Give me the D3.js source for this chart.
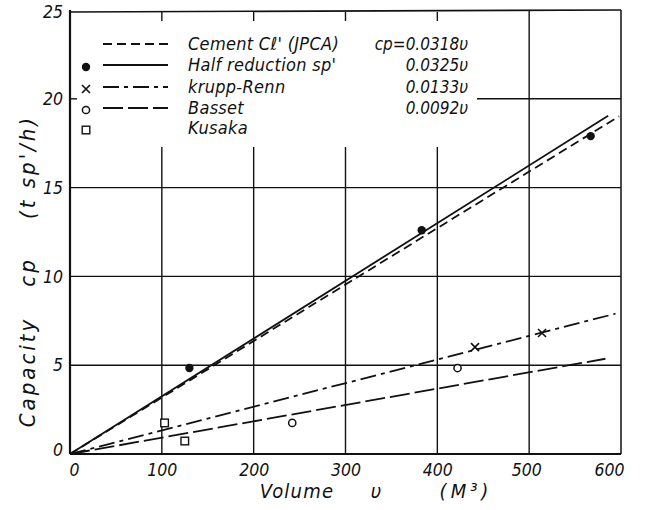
<!DOCTYPE html>
<html>
<head>
<meta charset="utf-8">
<script src="https://cdn.jsdelivr.net/npm/d3@7"></script>
<style>
  body { margin: 0; background: #fff; }
  svg { display: block; }
  text { font-family: "DejaVu Sans Condensed", "DejaVu Sans", sans-serif; font-style: oblique; fill: #111; }
</style>
</head>
<body>
<svg id="chart" width="650" height="510"></svg>
<script>
// ---- data ----
const xTickValues = [0, 100, 200, 300, 400, 500, 600];
const yTickValues = [0, 5, 10, 15, 20, 25];
const seriesNames = ["Cement C\u2113' (JPCA)", "Half reduction sp'", "krupp-Renn", "Basset", "Kusaka"];
const coefLabels = ["cp=0.0318\u03C5", "0.0325\u03C5", "0.0133\u03C5", "0.0092\u03C5"];
const coefficients = [0.0318, 0.0325, 0.0133, 0.0092];
const lineEndV = [598, 586, 594, 583];
const halfReductionPts = [[130, 4.84], [383, 12.6], [567, 17.9]];
const kruppPts = [[441, 6.02], [514, 6.81]];
const bassetPts = [[422, 4.84], [242, 1.75]];
const kusakaPts = [[103, 1.75], [125, 0.73]];

// ---- layout ----
const svg = d3.select("#chart");
const x = d3.scaleLinear().domain([0, 600]).range([70, 621]);
const y = d3.scaleLinear().domain([0, 25]).range([454, 10]);
const ink = "#111";

const dashStyles = ["9,5", null, "16,5,4,5", "20,5"];

// grid: horizontal
const gridH = svg.append("g").attr("stroke", ink).attr("stroke-width", 1.4);
[5, 10, 15].forEach(v => {
  gridH.append("line").attr("x1", x(0)).attr("x2", x(600)).attr("y1", y(v)).attr("y2", y(v));
});
// 20 line: short tick at left, then right part past legend
gridH.append("line").attr("x1", x(0)).attr("x2", x(0) + 7).attr("y1", y(20)).attr("y2", y(20));
gridH.append("line").attr("x1", 477).attr("x2", x(600)).attr("y1", y(20)).attr("y2", y(20));

// grid: vertical
const gridV = svg.append("g").attr("stroke", ink).attr("stroke-width", 1.4);
[100, 200, 300, 400].forEach(v => {
  gridV.append("line").attr("x1", x(v)).attr("x2", x(v)).attr("y1", 147).attr("y2", y(0));
  gridV.append("line").attr("x1", x(v)).attr("x2", x(v)).attr("y1", y(25) + 2).attr("y2", y(25) + 11);
});
gridV.append("line").attr("x1", x(500)).attr("x2", x(500)).attr("y1", y(25)).attr("y2", y(0));

// frame
const frame = svg.append("g").attr("fill", "none").attr("stroke", ink);
frame.append("line").attr("x1", x(0)).attr("x2", x(600)).attr("y1", y(25) + 2).attr("y2", y(25)).attr("stroke-width", 1.6);
frame.append("line").attr("x1", x(600)).attr("x2", x(600)).attr("y1", y(25)).attr("y2", y(0)).attr("stroke-width", 1.5);
frame.append("line").attr("x1", x(0)).attr("x2", x(0)).attr("y1", y(25)).attr("y2", y(0)).attr("stroke-width", 2.2);
frame.append("line").attr("x1", x(0)).attr("x2", x(600)).attr("y1", y(0)).attr("y2", y(0)).attr("stroke-width", 2.2);

// axes labels via d3 axes
const xAxis = d3.axisBottom(x).tickValues(xTickValues).tickSize(0).tickPadding(8).tickFormat(d3.format("d"));
const gx = svg.append("g").attr("transform", `translate(0,${y(0) + 2})`).call(xAxis);
gx.select(".domain").remove();
gx.selectAll("text").attr("font-size", 17.5).attr("font-family", null).attr("fill", ink);
gx.selectAll(".tick").filter(d => d === 0).select("text").attr("dx", 4);
gx.selectAll(".tick").filter(d => d === 600).select("text").attr("dx", -12);
gx.selectAll(".tick").filter(d => d === 500).select("text").attr("dx", -3);

const yAxis = d3.axisLeft(y).tickValues(yTickValues).tickSize(0).tickPadding(7).tickFormat(d3.format("d"));
const gy = svg.append("g").attr("transform", `translate(${x(0)},0)`).call(yAxis);
gy.select(".domain").remove();
gy.selectAll("text").attr("font-size", 17.5).attr("font-family", null).attr("fill", ink);
gy.selectAll(".tick").filter(d => d === 0).select("text").attr("dy", "0.1em");
gy.selectAll(".tick").filter(d => d === 25).select("text").attr("dy", "0.45em");

// fitted lines
const lineGen = d3.line().x(d => x(d[0])).y(d => y(d[1]));
coefficients.forEach((c, i) => {
  svg.append("path")
    .datum([[0, 0], [lineEndV[i], c * lineEndV[i]]])
    .attr("d", lineGen)
    .attr("fill", "none")
    .attr("stroke", ink)
    .attr("stroke-width", 1.8)
    .attr("stroke-dasharray", dashStyles[i]);
});

// markers
function dot(g, cx, cy) { g.append("circle").attr("cx", cx).attr("cy", cy).attr("r", 4.2).attr("fill", ink); }
function cross(g, cx, cy) {
  const s = 4;
  g.append("path").attr("d", `M${cx - s},${cy - s}L${cx + s},${cy + s}M${cx - s},${cy + s}L${cx + s},${cy - s}`)
    .attr("stroke", ink).attr("stroke-width", 1.6);
}
function ring(g, cx, cy) { g.append("circle").attr("cx", cx).attr("cy", cy).attr("r", 3.6).attr("fill", "#fff").attr("stroke", ink).attr("stroke-width", 1.5); }
function square(g, cx, cy) { g.append("rect").attr("x", cx - 3.8).attr("y", cy - 3.8).attr("width", 7.6).attr("height", 7.6).attr("fill", "#fff").attr("stroke", ink).attr("stroke-width", 1.4); }

const pts = svg.append("g");
halfReductionPts.forEach(d => dot(pts, x(d[0]), y(d[1])));
kruppPts.forEach(d => cross(pts, x(d[0]), y(d[1])));
bassetPts.forEach(d => ring(pts, x(d[0]), y(d[1])));
kusakaPts.forEach(d => square(pts, x(d[0]), y(d[1])));

// legend
const leg = svg.append("g");
const rowY = [44, 65, 87, 108, 128];
const markerFns = [null, dot, cross, ring, square];
seriesNames.forEach((name, i) => {
  if (i < 4) {
    leg.append("line").attr("x1", 103).attr("x2", 168).attr("y1", rowY[i]).attr("y2", rowY[i])
      .attr("stroke", ink).attr("stroke-width", 1.8).attr("stroke-dasharray", dashStyles[i]);
  }
  if (markerFns[i]) markerFns[i](leg, 86, rowY[i] + 2);
  leg.append("text").attr("x", 188).attr("y", rowY[i] + 6).attr("font-size", 18).attr("letter-spacing", 0.3).text(name);
});
coefLabels.forEach((t, i) => {
  leg.append("text").attr("x", 468).attr("y", rowY[i] + 6).attr("font-size", 17)
    .attr("text-anchor", "end").text(t);
});

// axis titles
const yTitle = [["Capacity", 372], ["cp", 272], ["(t  sp'/h)", 167]];
yTitle.forEach(([t, cy]) => {
  svg.append("text").attr("transform", `translate(35,${cy}) rotate(-90)`)
    .attr("text-anchor", "middle").attr("font-size", 22).attr("letter-spacing", 3).text(t);
});
const xTitle = [["Volume", 297], ["\u03C5", 378], ["(M\u00B3)", 466]];
xTitle.forEach(([t, cx]) => {
  svg.append("text").attr("x", cx).attr("y", 498).attr("text-anchor", "middle")
    .attr("font-size", 20).attr("letter-spacing", t === "Volume" ? 1.2 : 4).text(t);
});
</script>
</body>
</html>
